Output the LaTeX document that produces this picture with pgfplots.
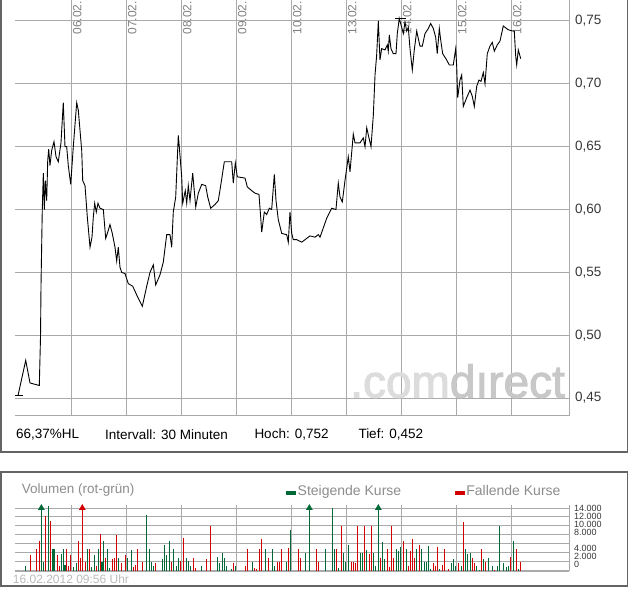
\documentclass[border=0pt]{standalone}
\usepackage{fontspec}
\setmainfont{Liberation Sans}
\newfontfamily\wmfont[FakeBold=2.2]{Liberation Sans}
\usepackage{pgfplots}
\usepackage{pgfplotstable}
\pgfplotsset{compat=1.18}

\definecolor{gridgray}{RGB}{170,170,170}
\definecolor{framegray}{RGB}{100,100,100}
\definecolor{dategray}{RGB}{128,128,128}
\definecolor{labeldark}{RGB}{55,55,55}
\definecolor{textgray}{RGB}{140,140,140}
\definecolor{footgray}{RGB}{185,185,185}
\definecolor{upgreen}{RGB}{0,105,55}
\definecolor{downred}{RGB}{210,0,0}
\definecolor{wmlight}{RGB}{220,220,220}
\definecolor{wmdark}{RGB}{200,200,200}

% 30-minute closes, x = trading day (1 = 06.02.)
\pgfplotstableread{
d      kurs
0.024  0.452
0.164  0.480
0.242  0.462
0.411  0.460
0.433  0.499
0.442  0.540
0.465  0.600
0.484  0.629
0.502  0.600
0.520  0.623
0.545  0.607
0.564  0.639
0.582  0.648
0.605  0.635
0.636  0.647
0.678  0.654
0.715  0.642
0.756  0.638
0.805  0.653
0.847  0.685
0.878  0.650
0.909  0.650
0.938  0.635
0.982  0.620
1.029  0.650
1.091  0.685
1.120  0.679
1.151  0.663
1.182  0.647
1.200  0.623
1.242  0.619
1.284  0.594
1.333  0.570
1.369  0.578
1.393  0.594
1.418  0.605
1.447  0.598
1.478  0.605
1.515  0.601
1.575  0.600
1.618  0.577
1.655  0.582
1.696  0.588
1.738  0.581
1.787  0.570
1.818  0.559
1.847  0.570
1.878  0.554
1.909  0.550
1.969  0.549
2.029  0.541
2.109  0.539
2.182  0.532
2.284  0.523
2.364  0.539
2.424  0.550
2.484  0.556
2.527  0.540
2.605  0.548
2.665  0.558
2.727  0.580
2.787  0.580
2.818  0.570
2.847  0.598
2.891  0.610
2.938  0.659
2.956  0.650
3.000  0.626
3.018  0.605
3.065  0.615
3.091  0.605
3.120  0.619
3.151  0.607
3.200  0.629
3.255  0.602
3.302  0.613
3.364  0.620
3.436  0.619
3.473  0.610
3.527  0.601
3.605  0.604
3.665  0.607
3.709  0.619
3.775  0.638
3.909  0.638
3.938  0.621
3.975  0.637
4.011  0.626
4.151  0.625
4.193  0.618
4.273  0.615
4.333  0.613
4.405  0.612
4.436  0.594
4.455  0.582
4.502  0.598
4.545  0.596
4.593  0.601
4.636  0.600
4.684  0.628
4.715  0.607
4.756  0.592
4.818  0.581
4.909  0.580
4.938  0.574
4.969  0.598
5.000  0.581
5.029  0.576
5.091  0.576
5.182  0.574
5.242  0.576
5.333  0.579
5.424  0.578
5.484  0.580
5.515  0.578
5.636  0.593
5.727  0.601
5.805  0.600
5.847  0.621
5.878  0.610
5.920  0.606
5.969  0.623
6.029  0.642
6.060  0.630
6.120  0.660
6.151  0.653
6.242  0.653
6.302  0.657
6.333  0.650
6.364  0.665
6.405  0.657
6.442  0.650
6.484  0.675
6.515  0.707
6.545  0.723
6.575  0.750
6.605  0.719
6.636  0.728
6.696  0.727
6.738  0.731
6.756  0.726
6.775  0.739
6.805  0.728
6.847  0.724
6.896  0.724
6.920  0.740
6.956  0.752
7.000  0.745
7.029  0.740
7.060  0.749
7.091  0.742
7.120  0.745
7.151  0.728
7.193  0.711
7.229  0.727
7.273  0.742
7.302  0.736
7.333  0.730
7.375  0.730
7.424  0.740
7.484  0.744
7.527  0.748
7.575  0.744
7.618  0.737
7.647  0.724
7.684  0.744
7.709  0.735
7.745  0.724
7.818  0.719
7.865  0.715
7.938  0.715
7.982  0.728
8.000  0.714
8.018  0.689
8.060  0.703
8.091  0.707
8.120  0.682
8.182  0.689
8.242  0.695
8.284  0.690
8.320  0.682
8.364  0.698
8.405  0.703
8.442  0.702
8.484  0.709
8.515  0.700
8.556  0.724
8.605  0.730
8.647  0.733
8.684  0.726
8.738  0.731
8.787  0.734
8.847  0.746
8.938  0.743
9.018  0.742
9.047  0.742
9.073  0.722
9.091  0.715
9.120  0.727
9.164  0.720
}\kurse

% volume of rising intervals (bars above 14000 are cut at 14000)
\pgfplotstableread{
d      vol
0.157  900
0.448  14000
0.484  2000
0.575  14500
0.648  4900
0.678  4900
0.812  3600
0.848  4900
0.878  1300
1.030  750
1.084  1600
1.284  4900
1.357  750
1.412  3400
1.484  4900
1.551  2000
1.575  6500
1.648  4900
1.684  500
1.848  2900
2.012  2900
2.084  4700
2.357  12400
2.412  4900
2.448  2000
2.484  900
2.648  2500
2.684  5800
2.721  3400
2.775  6700
2.848  4900
2.903  900
2.939  2700
3.084  2900
3.121  2200
3.157  900
3.357  1100
3.648  3100
3.684  1600
3.739  4000
3.775  2900
3.812  900
3.903  450
3.975  900
4.284  2000
4.521  4900
4.648  4900
4.684  900
4.903  2000
4.975  9000
5.248  4000
5.321  14000
5.612  4900
5.739  14000
5.775  4900
5.848  500
5.939  4000
5.975  2000
6.030  5800
6.248  4000
6.284  4000
6.357  4700
6.484  4000
6.521  900
6.575  14000
6.648  6300
6.684  2500
6.903  4900
6.939  4300
6.975  5200
7.084  4900
7.266  4900
7.357  4900
7.412  2000
7.448  2000
7.485  5400
7.521  450
7.685  450
7.903  1600
7.939  2500
7.975  900
8.085  900
8.157  4900
8.193  3800
8.248  4000
8.357  900
8.412  200
8.485  2500
8.575  2900
8.648  900
8.739  900
8.775  9900
8.848  1600
8.903  700
8.939  900
9.030  6500
9.121  450
}\steigend

% volume of falling intervals
\pgfplotstableread{
d      vol
0.248  3400
0.357  4900
0.418  6700
0.521  12100
0.612  11000
0.739  3400
0.775  900
0.909  4900
0.939  900
0.975  3400
1.121  6700
1.157  2900
1.193  14000
1.248  2000
1.321  4900
1.448  900
1.521  8100
1.612  2900
1.739  2500
1.775  2900
1.812  7900
1.903  1600
1.975  3400
2.121  750
2.157  1300
2.193  4900
2.284  1800
2.521  1600
2.812  1800
2.975  2200
3.030  7200
3.212  2900
3.248  500
3.448  2500
3.521  9900
3.939  1600
4.157  900
4.193  4900
4.321  500
4.357  450
4.412  4900
4.448  7000
4.575  2900
4.739  2000
4.775  2000
4.812  4900
4.939  5100
5.121  4900
5.157  2900
5.448  4900
5.484  2000
5.812  4900
5.903  9900
6.084  2000
6.121  2000
6.157  1600
6.193  9900
6.321  9900
6.412  3600
6.448  9900
6.612  2900
6.739  4900
6.775  700
6.812  9900
6.848  2900
7.030  6700
7.121  900
7.157  4300
7.193  7000
7.230  2700
7.321  5800
7.575  1600
7.612  900
7.648  5200
7.739  1300
7.775  4900
7.848  450
8.030  1600
8.121  10800
8.285  2900
8.321  1600
8.448  4900
8.521  1800
8.685  200
8.975  3100
9.085  4900
9.157  2000
}\fallend

\begin{document}
\begin{tikzpicture}[x=1pt,y=1pt]
\useasboundingbox (0,0) rectangle (632,-590);

\begin{axis}[
    at={(15pt,-415pt)}, anchor=south west,
    scale only axis, width=554pt, height=415pt,
    xmin=-0.031, xmax=10.042,
    ymin=0.4365, ymax=0.7667,
    axis line style={draw=none},
    major tick length=0pt,
    grid=major,
    grid style={gridgray, line width=1pt},
    xtick={1,2,3,4,5,6,7,8,9},
    xticklabels={06.02.,07.02.,08.02.,09.02.,10.02.,13.02.,14.02.,15.02.,16.02.},
    xticklabel pos=upper,
    xticklabel style={rotate=90, anchor=north east, inner sep=1pt,
        font=\fontsize{12}{12}\selectfont, text=dategray},
    ytick={0.45,0.50,0.55,0.60,0.65,0.70,0.75},
    yticklabel pos=right,
    yticklabel style={anchor=west, inner sep=0pt, xshift=6pt,
        font=\fontsize{13.5}{14}\selectfont, text=labeldark,
        /pgf/number format/.cd, fixed, fixed zerofill, precision=2,
        use comma, assume math mode=true},
    clip=false,
]
\draw[gridgray, line width=1pt] (rel axis cs:0,0) -- (rel axis cs:1,0) -- (rel axis cs:1,1);
\addplot[black, line width=0.9pt] table[x=d, y=kurs] {\kurse};
% low and high marks
\addplot[black, line width=0.9pt] coordinates {(-0.031,0.452) (0.12,0.452)};
\addplot[black, line width=0.9pt] coordinates {(6.878,0.752) (7.078,0.752)};
\end{axis}

% watermark, over the grid
\node[anchor=base west, inner sep=0pt, font=\wmfont\fontsize{46}{46}\selectfont]
  at (350,-397.5) {\textcolor{wmlight}{.com}\textcolor{wmdark}{dırect}};

\begin{axis}[
    at={(15pt,-570.5pt)}, anchor=south west,
    scale only axis, width=554pt, height=65.4pt,
    xmin=-0.031, xmax=10.042,
    ymin=0, ymax=14650,
    axis line style={draw=none},
    major tick length=0pt,
    grid=major,
    grid style={gridgray, line width=1pt},
    xtick={1,2,3,4,5,6,7,8,9},
    xticklabels={},
    ytick={0,2000,4000,6000,8000,10000,12000,14000},
    yticklabels={\raisebox{2.8pt}{0},\raisebox{1.9pt}{2.000},\raisebox{1.1pt}{4.000},,
        \raisebox{-0.7pt}{8.000},\raisebox{-1.6pt}{10.000},\raisebox{-2.4pt}{12.000},
        \raisebox{-3.3pt}{14.000}},
    scaled y ticks=false,
    yticklabel pos=right,
    yticklabel style={anchor=base west, inner sep=0pt, xshift=5pt,
        font=\fontsize{9}{9}\selectfont, text=labeldark},
    clip=false,
    legend columns=2,
    legend cell align=left,
    legend style={draw=none, fill=none, inner sep=0pt, at={(0.489,1.208)}, anchor=west,
        font=\fontsize{14}{14}\selectfont, text=textgray,
        nodes={inner sep=1.5pt},
        /tikz/every even column/.append style={column sep=52pt}},
    legend image code/.code={\fill (0pt,-3pt) rectangle (9pt,0pt);},
]
\draw[gridgray, line width=2pt] (rel axis cs:0,0) -- (rel axis cs:1,0);
\draw[gridgray, line width=1pt] (rel axis cs:1,0) -- (rel axis cs:1,1);
\addplot[ycomb, upgreen, line width=1.1pt] table[x=d, y=vol] {\steigend};
\addlegendentry{Steigende Kurse}
\addplot[ycomb, downred, line width=1.1pt] table[x=d, y=vol] {\fallend};
\addlegendentry{Fallende Kurse}
% intervals above the scale
\addplot[only marks, mark=triangle*, mark size=3.5pt, upgreen, forget plot]
    coordinates {(0.448,14000) (5.321,14000) (6.575,14000)};
\addplot[only marks, mark=triangle*, mark size=3.5pt, downred, forget plot]
    coordinates {(1.193,14000)};
\end{axis}

% panel frames
\draw[framegray, line width=1.2pt] (1,0) -- (1,-452) -- (627.5,-452) -- (627.5,0);
\draw[framegray, line width=1.2pt] (1,-472) rectangle (627.5,-586);

% info line under the price chart
\begin{scope}[every node/.style={anchor=west, inner sep=0pt, font=\fontsize{13.5}{14}\selectfont}]
\node at (16,-434.5) {66,37\%HL};
\node at (105,-434.5) {Intervall: 30 Minuten};
\node at (254.3,-434.5) {Hoch:\hspace{5pt}0,752};
\node at (358.3,-434.5) {Tief:\hspace{5pt}0,452};
\node[text=textgray] at (21.7,-490.5) {Volumen (rot-grün)};
\end{scope}
\node[anchor=west, inner sep=0pt, font=\fontsize{12}{12}\selectfont, text=footgray]
  at (12.7,-579) {16.02.2012 09:56 Uhr};
\end{tikzpicture}
\end{document}
